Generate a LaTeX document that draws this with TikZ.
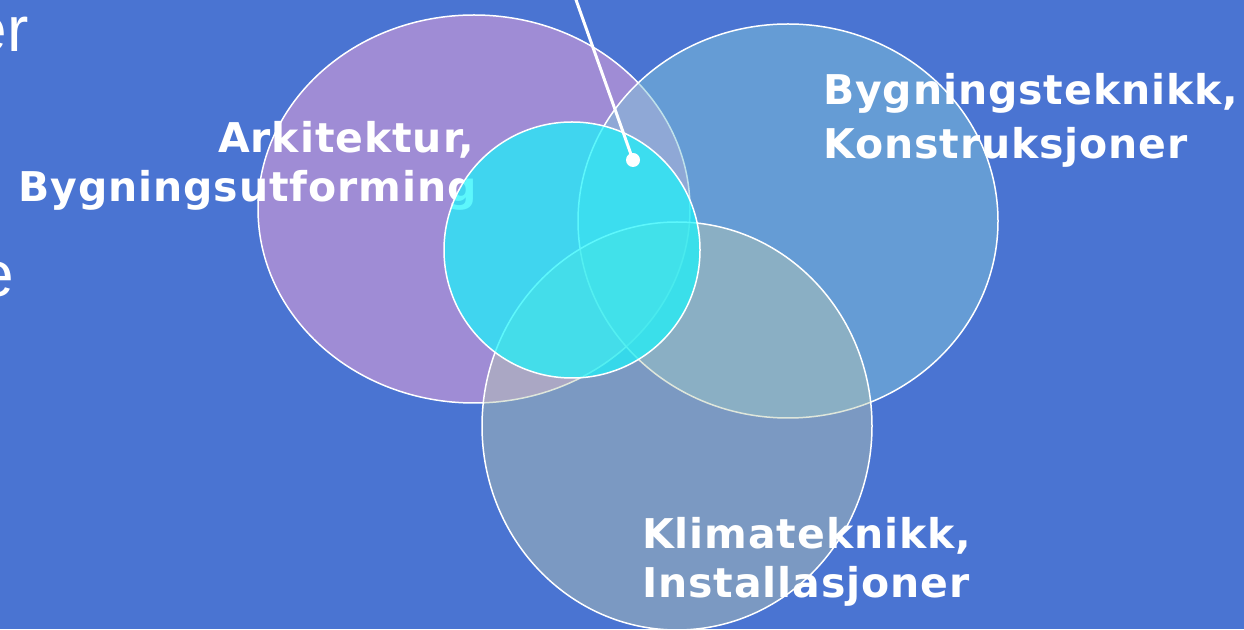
\documentclass[tikz,border=0pt]{standalone}
\usepackage{fontspec}
\usepackage{xcolor}
\usepackage{tikz}
\usetikzlibrary{arrows.meta,calc,positioning}
\newfontfamily\labelfont{DejaVu Sans}[LetterSpace=2.2]
\newfontfamily\slidefont{Liberation Sans}
\definecolor{slidebg}{HTML}{4A74D2}
\definecolor{arkfill}{HTML}{D89CD8}
\definecolor{konfill}{HTML}{80C4D8}
\definecolor{klifill}{HTML}{B8C8B0}
\definecolor{midfill}{HTML}{19F4FB}

\begin{document}
\begin{tikzpicture}[x=1pt,y=1pt,
    ring/.style={draw=white,line width=1.5pt},
    fag/.style={text=white,inner sep=0pt,font=\labelfont\bfseries\fontsize{41}{50}\selectfont},
    rest/.style={text=white,inner sep=0pt,font=\slidefont\fontsize{64}{70}\selectfont}]
    \fill[slidebg] (0,0) rectangle (1244,629);
    \useasboundingbox (0,0) rectangle (1244,629);
    % the three fields
    \draw[ring,fill=arkfill,fill opacity=0.6] (474,420) ellipse [x radius=216,y radius=194];
    \draw[ring,fill=konfill,fill opacity=0.5] (788,408) ellipse [x radius=210,y radius=197];
    \draw[ring,fill=klifill,fill opacity=0.45] (677,203) ellipse [x radius=195,y radius=204];
    % text cut at the slide edge
    \node[rest,anchor=base east] (er) at (29,577) {er};
    \node[rest,anchor=base east] (e) at (14,332) {e};
    % labels
    \node[fag,anchor=base east] (ark1) at (474,476) {Arkitektur,};
    \node[fag,anchor=base east] (ark2) at (477,427) {Bygningsutforming};
    \node[fag,anchor=base west] (kon1) at (823,524) {Bygningsteknikk,};
    \node[fag,anchor=base west] (kon2) at (823,470) {Konstruksjoner};
    \node[fag,anchor=base west] (kli1) at (642,81) {Klimateknikk,};
    \node[fag,anchor=base west] (kli2) at (642,32) {Installasjoner};
    % common core
    \draw[ring,fill=midfill,fill opacity=0.7] (572,379) circle (128);
    \coordinate (lead) at (575,632);
    \node[circle,fill=white,inner sep=0pt,minimum size=14pt] (pin) at (633,469) {};
    \draw[white,line width=3pt] (lead) -- (pin.center);
\end{tikzpicture}
\end{document}
